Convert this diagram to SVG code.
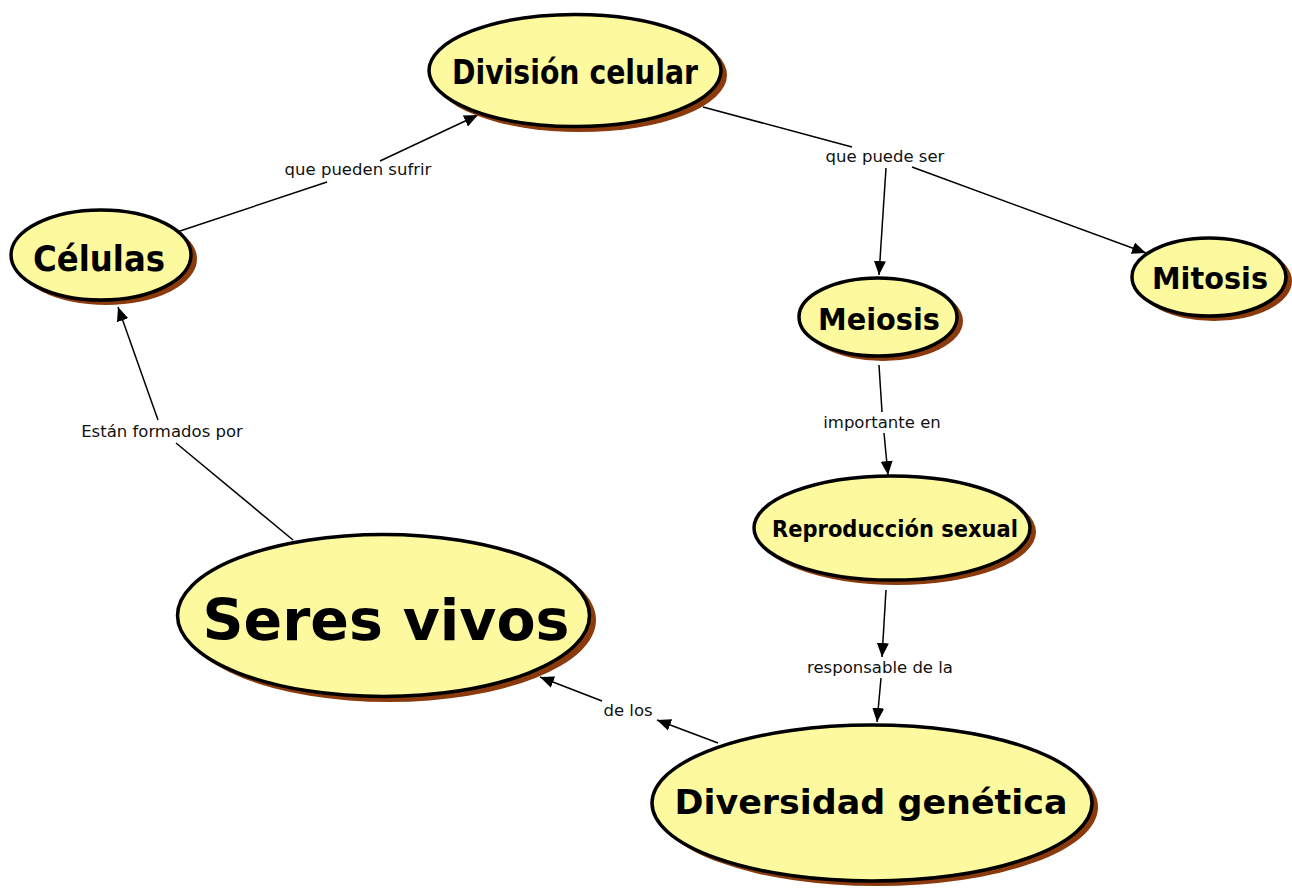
<svg xmlns="http://www.w3.org/2000/svg" width="1292" height="889" viewBox="0 0 1292 889">
<style>
.sh{fill:#8a3a0c;stroke:none}
.nd{fill:#fdf99e;stroke:#000;stroke-width:3.5}
.nt{font-family:"DejaVu Sans","Liberation Sans",sans-serif;font-weight:bold;fill:#000;text-anchor:middle}
.lb{font-family:"DejaVu Sans","Liberation Sans",sans-serif;font-size:16.5px;fill:#111;text-anchor:middle}
.cn{stroke:#000;stroke-width:1.5;fill:none}
</style>
<defs>
<marker id="ah" markerUnits="userSpaceOnUse" markerWidth="16" markerHeight="14" refX="14" refY="6" orient="auto" viewBox="0 0 16 12">
<path d="M0,0 L14,6 L0,12 Z" fill="#000"/>
</marker>
</defs>
<rect width="1292" height="889" fill="#fff"/>
<g id="connectors">
<line class="cn" x1="177" y1="232" x2="327" y2="182"/>
<line class="cn" x1="380" y1="161" x2="478" y2="115" marker-end="url(#ah)"/>
<line class="cn" x1="703" y1="107" x2="852" y2="147"/>
<line class="cn" x1="886" y1="168" x2="879" y2="275" marker-end="url(#ah)"/>
<line class="cn" x1="912" y1="167" x2="1146" y2="253" marker-end="url(#ah)"/>
<line class="cn" x1="879" y1="365" x2="882" y2="412"/>
<line class="cn" x1="884" y1="433" x2="888" y2="475" marker-end="url(#ah)"/>
<line class="cn" x1="886" y1="590" x2="882" y2="657" marker-end="url(#ah)"/>
<line class="cn" x1="881" y1="678" x2="877" y2="722" marker-end="url(#ah)"/>
<line class="cn" x1="718" y1="743" x2="657" y2="720" marker-end="url(#ah)"/>
<line class="cn" x1="602" y1="701" x2="540" y2="677" marker-end="url(#ah)"/>
<line class="cn" x1="293" y1="540" x2="176" y2="443"/>
<line class="cn" x1="158" y1="420" x2="118" y2="307" marker-end="url(#ah)"/>
<text class="lb" x="358" y="175">que pueden sufrir</text>
<text class="lb" x="885" y="162">que puede ser</text>
<text class="lb" x="882" y="428">importante en</text>
<text class="lb" x="880" y="673">responsable de la</text>
<text class="lb" x="628" y="716">de los</text>
<text class="lb" x="162" y="437">Están formados por</text>
</g>
<g id="division">
<ellipse class="sh" cx="580" cy="75" rx="147" ry="57"/>
<ellipse class="nd" cx="575" cy="70.5" rx="146" ry="56"/>
<text class="nt" x="575" y="84" font-size="33" textLength="246" lengthAdjust="spacingAndGlyphs">División celular</text>
</g>
<g id="celulas">
<ellipse class="sh" cx="106" cy="259" rx="91" ry="46"/>
<ellipse class="nd" cx="101" cy="255" rx="90" ry="45"/>
<text class="nt" x="99" y="271" font-size="35" textLength="132" lengthAdjust="spacingAndGlyphs">Células</text>
</g>
<g id="mitosis">
<ellipse class="sh" cx="1214" cy="281" rx="78" ry="40"/>
<ellipse class="nd" cx="1209" cy="277" rx="77" ry="39"/>
<text class="nt" x="1210" y="289" font-size="31" textLength="116" lengthAdjust="spacingAndGlyphs">Mitosis</text>
</g>
<g id="meiosis">
<ellipse class="sh" cx="883" cy="321" rx="80" ry="40"/>
<ellipse class="nd" cx="878" cy="317" rx="79" ry="39"/>
<text class="nt" x="879" y="330" font-size="31" textLength="122" lengthAdjust="spacingAndGlyphs">Meiosis</text>
</g>
<g id="reproduccion">
<ellipse class="sh" cx="897" cy="532" rx="139" ry="53"/>
<ellipse class="nd" cx="892" cy="528" rx="138" ry="52"/>
<text class="nt" x="895" y="537" font-size="23" textLength="246" lengthAdjust="spacingAndGlyphs">Reproducción sexual</text>
</g>
<g id="seres">
<ellipse class="sh" cx="389" cy="620" rx="207" ry="82"/>
<ellipse class="nd" cx="383.5" cy="615.5" rx="206" ry="81"/>
<text class="nt" x="386" y="640" font-size="57" textLength="367" lengthAdjust="spacingAndGlyphs">Seres vivos</text>
</g>
<g id="diversidad">
<ellipse class="sh" cx="877" cy="807" rx="221" ry="79"/>
<ellipse class="nd" cx="872" cy="803" rx="220" ry="78"/>
<text class="nt" x="871" y="814" font-size="33" textLength="393" lengthAdjust="spacingAndGlyphs">Diversidad genética</text>
</g>
</svg>
